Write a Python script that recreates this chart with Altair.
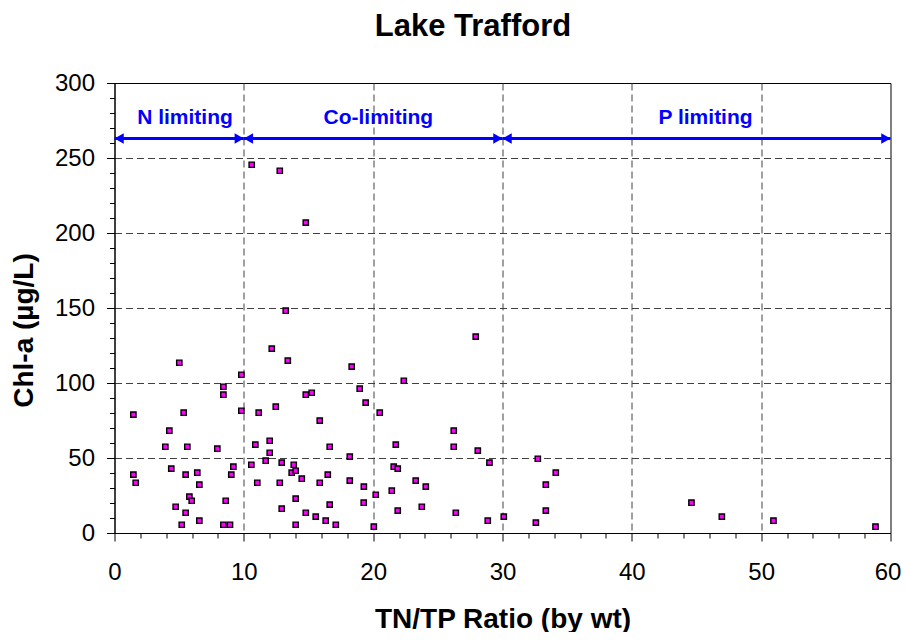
import altair as alt
import pandas as pd

# TN/TP ratio (x) and Chl-a (y)
ratio = [1.46, 1.46, 1.64, 3.93, 4.24, 4.39, 4.73, 5.01, 5.2, 5.35, 5.5, 5.5, 5.63, 5.79,
         5.97, 6.4, 6.56, 6.56, 7.95, 8.42, 8.42, 8.42, 8.6, 8.93, 9.03, 9.19, 9.81, 9.81,
         10.58, 10.61, 10.89, 11.04, 11.15, 11.69, 12.0, 12.0, 12.16, 12.47, 12.78, 12.78,
         12.93, 12.93, 13.24, 13.4, 13.7, 13.86, 14.01, 14.01, 14.01, 14.48, 14.79, 14.79,
         14.79, 15.25, 15.56, 15.87, 15.87, 16.33, 16.49, 16.64, 16.64, 17.11, 18.19, 18.19,
         18.34, 18.96, 19.27, 19.28, 19.42, 20.05, 20.2, 20.51, 21.44, 21.59, 21.75, 21.9,
         21.9, 22.37, 23.29, 23.76, 24.07, 26.23, 26.23, 26.39, 27.93, 28.09, 28.86, 28.99,
         30.1, 32.58, 32.73, 33.35, 33.35, 34.12, 44.61, 46.96, 50.95, 58.84]
chla = [78.9, 38.9, 33.5, 57.5, 68.2, 42.9, 17.5, 113.5, 5.5, 80.2, 38.9, 13.5, 57.5, 24.2,
        21.5, 40.2, 32.2, 8.2, 56.2, 97.5, 92.2, 5.5, 21.5, 5.5, 38.9, 44.2, 105.5, 81.5,
        45.5, 245.5, 58.9, 33.5, 80.2, 48.2, 61.5, 53.5, 122.9, 84.2, 241.5, 33.5,
        46.9, 16.2, 148.2, 114.9, 40.2, 45.5, 41.5, 22.9, 5.5, 36.2, 206.9, 92.2,
        13.5, 93.5, 10.9, 74.9, 33.5, 8.2, 38.9, 57.5, 18.9, 5.5, 50.9, 34.9,
        110.9, 96.2, 20.2, 30.9, 86.9, 4.2, 25.5, 80.2, 28.2, 44.2, 58.9, 42.9,
        14.9, 101.5, 34.9, 17.5, 30.9, 68.2, 57.5, 13.5, 130.9, 54.9, 8.2, 46.9,
        10.9, 6.9, 49.5, 32.2, 14.9, 40.2, 20.2, 10.9, 8.2, 4.2]

region_start = [0, 10, 30]
region_end = [10, 30, 60]
region_label = ["N limiting", "Co-limiting", "P limiting"]
label_x = [5.45, 20.4, 45.7]
arrow_y = [263, 263, 263]
label_y = [273, 273, 273]

x_ticks = list(range(0, 61, 2))
y_ticks = list(range(0, 301, 10))

pts = pd.DataFrame({"ratio": ratio, "chla": chla})
reg = pd.DataFrame({"start": region_start, "end": region_end, "label": region_label,
                    "lx": label_x, "ay": arrow_y, "ly": label_y})

FONT = "Liberation Sans"
BLUE = "#0000FF"

xscale = alt.Scale(domain=[0, 60], nice=False, zero=False)
yscale = alt.Scale(domain=[0, 300], nice=False, zero=False)

x_axis = alt.Axis(
    values=x_ticks,
    title="TN/TP Ratio (by wt)",
    labelExpr="datum.value % 10 === 0 ? datum.label : ''",
    labelOverlap=False,
    labelFlush=False,
    labelFontSize=24,
    labelPadding=19,
    labelOffset={"condition": {"test": "datum.value === 60", "value": -3}, "value": 0},
    tickSize={"condition": {"test": "datum.value % 10 === 0", "value": 8}, "value": 5},
    grid=True,
    gridOpacity={"condition": {"test": "datum.value % 10 === 0 && datum.value > 0 && datum.value < 60",
                               "value": 1}, "value": 0},
    titleFontSize=28,
    titleFontWeight="bold",
    titleBaseline="alphabetic",
    titleY=94,
)
y_axis = alt.Axis(
    values=y_ticks,
    title="Chl-a (\u00b5g/L)",
    labelExpr="datum.value % 50 === 0 ? datum.label : ''",
    labelOverlap=False,
    labelFlush=False,
    labelFontSize=24,
    labelPadding=12,
    tickSize={"condition": {"test": "datum.value % 50 === 0", "value": 8}, "value": 5},
    grid=True,
    gridOpacity={"condition": {"test": "datum.value % 50 === 0 && datum.value > 0 && datum.value < 300",
                               "value": 1}, "value": 0},
    titleFontSize=28,
    titleFontWeight="bold",
    titleAngle=270,
    titleAlign="center",
    titleBaseline="alphabetic",
    titleX=-82,
    titleY=247,
)


def X(field):
    return alt.X(f"{field}:Q", scale=xscale, axis=x_axis)


def Y(field):
    return alt.Y(f"{field}:Q", scale=yscale, axis=y_axis)


points = alt.Chart(pts).mark_square(
    size=28, fill="#FF00FF", stroke="black", strokeWidth=1.4, opacity=1
).encode(x=X("ratio"), y=Y("chla"))

lines = alt.Chart(reg).mark_rule(color=BLUE, strokeWidth=3).encode(
    x=X("start"), x2="end", y=Y("ay"))

left_heads = alt.Chart(reg).mark_point(
    shape="triangle-left", filled=True, size=114, color=BLUE, opacity=1, xOffset=4.6
).encode(x=X("start"), y=Y("ay"))

right_heads = alt.Chart(reg).mark_point(
    shape="triangle-right", filled=True, size=114, color=BLUE, opacity=1, xOffset=-4.6
).encode(x=X("end"), y=Y("ay"))

labels = alt.Chart(reg).mark_text(
    font=FONT, fontSize=21, fontWeight="bold", color=BLUE, align="center", baseline="alphabetic"
).encode(x=X("lx"), y=Y("ly"), text="label:N")

chart = alt.layer(points, lines, left_heads, right_heads, labels).properties(
    width=776,
    height=450,
    title=alt.TitleParams("Lake Trafford", font=FONT, fontSize=31, fontWeight="bold",
                          color="black", anchor="middle", frame="group", dx=-29.5,
                          baseline="alphabetic", offset=4),
    autosize=alt.AutoSizeParams(type="none"),
    padding={"left": 106.5, "top": 75, "right": 10, "bottom": 99},
    background="white",
).configure_view(
    stroke="black", strokeWidth=1
).configure_axis(
    domainColor="black", domainWidth=1, tickColor="black", tickWidth=1,
    labelColor="black", titleColor="black", labelFont=FONT, titleFont=FONT,
    gridColor="#404040", gridDash=[7, 4], gridWidth=1,
)

chart.save("out.html", embed_options={"renderer": "svg", "actions": False})
